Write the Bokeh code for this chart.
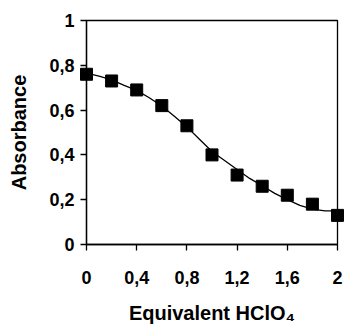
from bokeh.plotting import figure
from bokeh.models import Range1d, FixedTicker
from bokeh.embed import file_html
from bokeh.resources import INLINE

# measured points
eq = [0.0, 0.2, 0.4, 0.6, 0.8, 1.0, 1.2, 1.4, 1.6, 1.8, 2.0]
absorb = [0.76, 0.73, 0.69, 0.62, 0.53, 0.40, 0.31, 0.26, 0.22, 0.18, 0.13]

# fitted curve
fit_x = [0.0, 0.1, 0.2, 0.3, 0.4, 0.5, 0.6, 0.7, 0.8, 0.9, 1.0,
         1.1, 1.2, 1.3, 1.4, 1.5, 1.6, 1.7, 1.8, 1.9, 2.0]
fit_y = [0.765, 0.752, 0.735, 0.710, 0.688, 0.655, 0.618, 0.572, 0.525, 0.470, 0.415,
         0.375, 0.335, 0.295, 0.262, 0.228, 0.200, 0.175, 0.158, 0.150, 0.150]

x_ticks = [0, 0.4, 0.8, 1.2, 1.6, 2]
x_labels = ["0", "0,4", "0,8", "1,2", "1,6", "2"]
y_ticks = [0, 0.2, 0.4, 0.6, 0.8, 1]
y_labels = ["0", "0,2", "0,4", "0,6", "0,8", "1"]

p = figure(width=347, height=326, output_backend="svg", toolbar_location=None,
           x_range=Range1d(0, 2), y_range=Range1d(0, 1),
           min_border_left=86, min_border_right=10, min_border_top=20, min_border_bottom=81)
p.grid.visible = False
p.outline_line_color = "black"
p.outline_line_width = 1.3
p.background_fill_color = "white"
p.border_fill_color = "white"

p.line(fit_x, fit_y, line_color="black", line_width=1.3, level="overlay")
p.scatter(eq, absorb, marker="square", size=12, fill_color="black", line_color="black",
          level="overlay")

font = "Liberation Sans"
p.xaxis.ticker = FixedTicker(ticks=x_ticks)
p.xaxis.major_label_overrides = {t: l for t, l in zip(x_ticks, x_labels)}
p.yaxis.ticker = FixedTicker(ticks=y_ticks)
p.yaxis.major_label_overrides = {t: l for t, l in zip(y_ticks, y_labels)}

for ax in (p.xaxis, p.yaxis):
    ax.axis_line_color = "black"
    ax.axis_line_width = 1.3
    ax.major_tick_line_color = "black"
    ax.major_tick_line_width = 1.3
    ax.major_tick_in = 0
    ax.major_tick_out = 6
    ax.minor_tick_line_color = None
    ax.major_label_text_font = font
    ax.major_label_text_font_style = "bold"
    ax.major_label_text_font_size = "18px"
    ax.major_label_text_color = "black"
    ax.axis_label_text_font = font
    ax.axis_label_text_font_style = "bold"
    ax.axis_label_text_font_size = "20px"
    ax.axis_label_text_color = "black"

p.xaxis.major_label_standoff = 20
p.xaxis.axis_label = "Equivalent HClO\u2084"
p.xaxis.axis_label_standoff = 15
p.yaxis.major_label_standoff = 6
p.yaxis.axis_label = "Absorbance"
p.yaxis.axis_label_standoff = 16

open("out.html", "w").write(file_html(p, INLINE))
